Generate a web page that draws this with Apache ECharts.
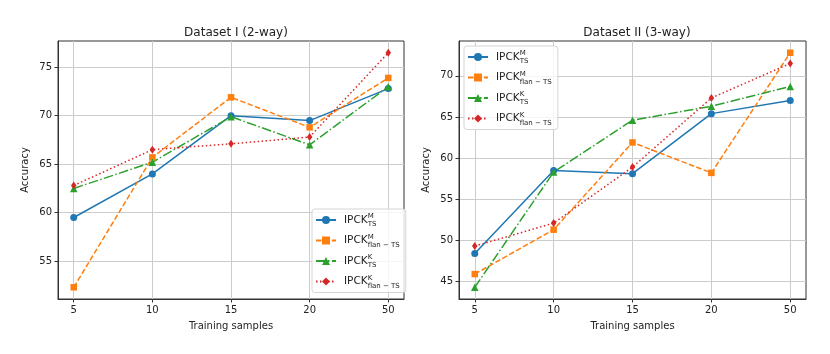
<!DOCTYPE html>
<html>
<head>
<meta charset="utf-8">
<script src="https://cdn.jsdelivr.net/npm/echarts@6/dist/echarts.min.js"></script>
<style>
  html, body { margin: 0; padding: 0; background: #fff; }
  #main { width: 830px; height: 354px; }
</style>
</head>
<body>
<div id="main"></div>
<script>
// categories on x (training samples)
var samples = ['5', '10', '15', '20', '50'];

// Dataset I (2-way)
var d1_mTS   = [59.5, 64.0, 70.0, 69.5, 72.8];
var d1_mFlan = [52.3, 65.7, 71.9, 68.8, 73.9];
var d1_kTS   = [62.5, 65.2, 69.9, 67.0, 73.0];
var d1_kFlan = [62.8, 66.5, 67.1, 67.8, 76.5];

// Dataset II (3-way)
var d2_mTS   = [48.4, 58.5, 58.1, 65.4, 67.0];
var d2_mFlan = [45.9, 51.3, 61.9, 58.2, 72.8];
var d2_kTS   = [44.3, 58.3, 64.6, 66.3, 68.7];
var d2_kFlan = [49.3, 52.1, 58.9, 67.3, 71.5];

var ticks1 = [55, 60, 65, 70, 75];
var ticks2 = [45, 50, 55, 60, 65, 70];

var FONT = 'DejaVu Sans';
var names = ['mTS', 'mFlan', 'kTS', 'kFlan'];
var colors = ['#1f77b4', '#ff7f0e', '#2ca02c', '#d62728'];
var dashes = ['solid', [5.5, 2.4], [9.6, 2.4, 1.5, 2.4], [1.5, 2.5]];
var symbols = ['circle', 'rect', 'triangle', 'diamond'];
var symSizes = [7, 6.5, 7.5, [5.5, 8]];
var legendText = {
    mTS:   '{a|IPCK}{sup|M}{sub|TS}',
    mFlan: '{a|IPCK}{sup|M}{sub|flan − TS}',
    kTS:   '{a|IPCK}{sup|K}{sub|TS}',
    kFlan: '{a|IPCK}{sup|K}{sub|flan − TS}'
};

// matplotlib-like 5% margins
function limits(arrs) {
    var all = [].concat.apply([], arrs);
    var lo = Math.min.apply(null, all), hi = Math.max.apply(null, all);
    var m = (hi - lo) * 0.05;
    return [lo - m, hi + m];
}
var lim1 = limits([d1_mTS, d1_mFlan, d1_kTS, d1_kFlan]);
var lim2 = limits([d2_mTS, d2_mFlan, d2_kTS, d2_kFlan]);

function pairs(arr) {
    return arr.map(function (v, i) { return [i, v]; });
}

var idx = samples.map(function (s, i) { return i; });

function xAxis(gi) {
    return {
        gridIndex: gi, type: 'value', min: -0.2, max: 4.2,
        name: 'Training samples', nameLocation: 'middle', nameGap: 22,
        nameTextStyle: { fontFamily: FONT, fontSize: 10, color: '#222' },
        axisLine: { show: true, onZero: false, lineStyle: { color: '#333', width: 1 } },
        axisTick: { show: true, length: 3.5, customValues: idx, lineStyle: { color: '#333' } },
        axisLabel: {
            customValues: idx, margin: 6, fontFamily: FONT, fontSize: 10, color: '#222',
            formatter: function (v) { return samples[Math.round(v)]; }
        },
        splitLine: { show: true, lineStyle: { color: '#cccccc', width: 1 } }
    };
}
function yAxis(gi, lim, ticks) {
    return {
        gridIndex: gi, type: 'value', min: lim[0], max: lim[1],
        name: 'Accuracy', nameLocation: 'middle', nameGap: 28,
        nameTextStyle: { fontFamily: FONT, fontSize: 10, color: '#222' },
        axisLine: { show: true, onZero: false, lineStyle: { color: '#333', width: 1 } },
        axisTick: { show: true, length: 3.5, customValues: ticks, lineStyle: { color: '#333' } },
        axisLabel: { customValues: ticks, margin: 6, fontFamily: FONT, fontSize: 10, color: '#222' },
        splitLine: { show: true, lineStyle: { color: '#cccccc', width: 1 } }
    };
}

function mkSeries(gi, arrs) {
    return arrs.map(function (arr, k) {
        return {
            name: names[k], type: 'line', xAxisIndex: gi, yAxisIndex: gi,
            data: pairs(arr), symbol: symbols[k], symbolSize: symSizes[k],
            showAllSymbol: true, animation: false,
            lineStyle: { color: colors[k], width: 1.5, type: dashes[k] },
            itemStyle: { color: colors[k], borderWidth: 0 }
        };
    });
}

function legend(left, top) {
    return {
        orient: 'vertical', left: left, top: top,
        data: names, itemWidth: 20, itemHeight: 10, itemGap: 4.5,
        padding: [3, 6, 3, 3],
        backgroundColor: 'rgba(255,255,255,0.8)',
        borderColor: '#d5d5d5', borderWidth: 1, borderRadius: 3,
        selectedMode: false,
        formatter: function (n) { return legendText[n]; },
        textStyle: {
            fontFamily: FONT, color: '#222', padding: [0, 0, 0, 3],
            rich: {
                a: { fontFamily: FONT, fontSize: 10.5, lineHeight: 16, color: '#222' },
                sup: { fontFamily: FONT, fontSize: 7, lineHeight: 16, width: 0, verticalAlign: 'top', color: '#222', padding: [1, 0, 0, 0] },
                sub: { fontFamily: FONT, fontSize: 7, lineHeight: 16, verticalAlign: 'bottom', color: '#222' }
            }
        }
    };
}

var chart = echarts.init(document.getElementById('main'), null, { renderer: 'canvas' });
chart.setOption({
    backgroundColor: '#fff',
    animation: false,
    title: [
        { text: 'Dataset I (2-way)', left: 231, top: 22, textAlign: 'center',
          textStyle: { fontFamily: FONT, fontSize: 12, fontWeight: 'normal', color: '#222' } },
        { text: 'Dataset II (3-way)', left: 632, top: 22, textAlign: 'center',
          textStyle: { fontFamily: FONT, fontSize: 12, fontWeight: 'normal', color: '#222' } }
    ],
    grid: [
        { left: 58, top: 41, width: 346, height: 258, show: true, borderColor: '#333', borderWidth: 1, backgroundColor: 'transparent' },
        { left: 459, top: 41, width: 347, height: 258, show: true, borderColor: '#333', borderWidth: 1, backgroundColor: 'transparent' }
    ],
    legend: [legend(312, 209), legend(464, 46)],
    xAxis: [xAxis(0), xAxis(1)],
    yAxis: [yAxis(0, lim1, ticks1), yAxis(1, lim2, ticks2)],
    series: mkSeries(0, [d1_mTS, d1_mFlan, d1_kTS, d1_kFlan])
        .concat(mkSeries(1, [d2_mTS, d2_mFlan, d2_kTS, d2_kFlan]))
});
</script>
</body>
</html>
